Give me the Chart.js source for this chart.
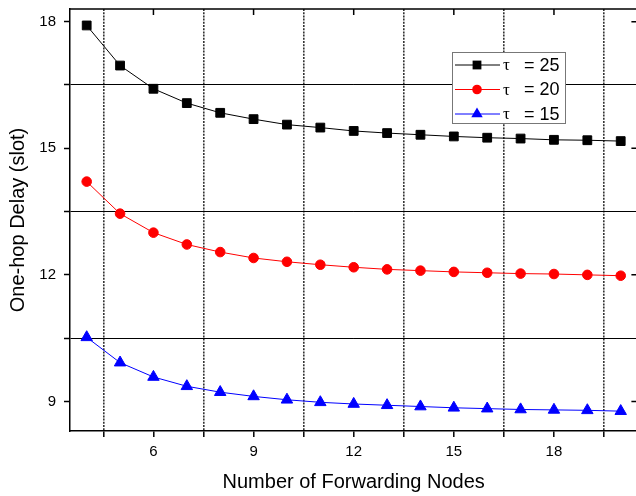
<!DOCTYPE html>
<html>
<head>
<meta charset="utf-8">
<script src="https://cdn.jsdelivr.net/npm/chart.js@4/dist/chart.umd.min.js"></script>
<style>
  html, body { margin: 0; padding: 0; background: #fff; overflow: hidden; }
  canvas { display: block; }
</style>
</head>
<body>
<canvas id="myChart" width="645" height="496"></canvas>
<script>
// data block
const nodes = [4, 5, 6, 7, 8, 9, 10, 11, 12, 13, 14, 15, 16, 17, 18, 19, 20];
const tau25 = [17.91, 16.96, 16.41, 16.07, 15.84, 15.69, 15.56, 15.49, 15.41, 15.36, 15.32, 15.28, 15.25, 15.23, 15.20, 15.19, 15.17];
const tau20 = [14.21, 13.45, 13.00, 12.72, 12.54, 12.40, 12.31, 12.24, 12.18, 12.13, 12.10, 12.07, 12.05, 12.03, 12.02, 12.00, 11.98];
const tau15 = [10.52, 9.92, 9.58, 9.36, 9.22, 9.12, 9.04, 8.98, 8.94, 8.91, 8.88, 8.85, 8.83, 8.81, 8.80, 8.79, 8.77];
const seriesLabels = ['25', '20', '15'];
const xTickLabels = [6, 9, 12, 15, 18];
const yTickLabels = [9, 12, 15, 18];

const FONT = "'Liberation Sans', Arial, sans-serif";

// minor positions sit halfway between the labelled ticks
function withMinor(major, lo, hi) {
  const out = [];
  major.forEach(v => { out.push(v - 1.5); out.push(v); });
  out.push(major[major.length - 1] + 1.5);
  return out.filter(v => v > lo && v < hi);
}
const isMajor = v => Math.abs(v % 3) < 1e-6;

const pts = arr => nodes.map((n, i) => ({x: n, y: arr[i]}));

const data = {
  datasets: [
    {label: seriesLabels[0], data: pts(tau25), borderColor: '#000', backgroundColor: '#000',
     pointStyle: 'rect', pointRadius: 6.2, borderWidth: 1},
    {label: seriesLabels[1], data: pts(tau20), borderColor: '#ff0000', backgroundColor: '#ff0000',
     pointStyle: 'circle', pointRadius: 4.8, borderWidth: 1},
    {label: seriesLabels[2], data: pts(tau15), borderColor: '#0000ff', backgroundColor: '#0000ff',
     pointStyle: 'triangle', pointRadius: 6.6, borderWidth: 1}
  ]
};

// frame on top/right with inward ticks, plus the boxed legend
const framePlugin = {
  id: 'frame',
  afterDatasetsDraw(chart) {
    const {ctx, chartArea: a, scales: {x, y}} = chart;
    ctx.save();
    ctx.strokeStyle = '#000';
    ctx.lineWidth = 1.5;
    ctx.beginPath();
    ctx.moveTo(a.left, a.top); ctx.lineTo(a.right, a.top); ctx.lineTo(a.right, a.bottom);
    xTickLabels.forEach(v => { const px = x.getPixelForValue(v); ctx.moveTo(px, a.top); ctx.lineTo(px, a.top + 6); });
    yTickLabels.forEach(v => { const py = y.getPixelForValue(v); ctx.moveTo(a.right, py); ctx.lineTo(a.right - 6, py); });
    ctx.stroke();

    // legend
    const bx = 452, by = 52, bw = 113, bh = 71;
    ctx.fillStyle = '#fff';
    ctx.fillRect(bx, by, bw, bh);
    ctx.strokeStyle = '#777';
    ctx.lineWidth = 1;
    ctx.strokeRect(bx + 0.5, by + 0.5, bw, bh);
    chart.data.datasets.forEach((ds, i) => {
      const cy = by + 13 + i * 24.5;
      ctx.strokeStyle = ds.borderColor;
      ctx.lineWidth = 1;
      ctx.beginPath(); ctx.moveTo(bx + 3, cy); ctx.lineTo(bx + 48, cy); ctx.stroke();
      const mx = bx + 25;
      ctx.fillStyle = ds.backgroundColor;
      ctx.beginPath();
      if (ds.pointStyle === 'rect') {
        ctx.rect(mx - 4.4, cy - 4.4, 8.8, 8.8);
      } else if (ds.pointStyle === 'circle') {
        ctx.arc(mx, cy, 4.8, 0, Math.PI * 2);
      } else {
        const r = 6.6;
        ctx.moveTo(mx, cy - r);
        ctx.lineTo(mx + r * 0.866, cy + r / 2);
        ctx.lineTo(mx - r * 0.866, cy + r / 2);
        ctx.closePath();
      }
      ctx.fill();
      ctx.fillStyle = '#000';
      ctx.textBaseline = 'middle';
      ctx.textAlign = 'left';
      ctx.font = "17px 'Liberation Serif', 'Times New Roman', serif";
      ctx.fillText('\u03c4', bx + 51, cy + 1);
      ctx.font = '18px ' + FONT;
      ctx.fillText('= ' + ds.label, bx + 72, cy + 1);
    });
    ctx.restore();
  }
};

const config = {
  type: 'line',
  data,
  options: {
    responsive: false,
    animation: false,
    layout: {padding: {top: 9, right: 3, left: 0, bottom: 0}},
    plugins: {legend: {display: false}, tooltip: {enabled: false}},
    elements: {line: {tension: 0}},
    scales: {
      x: {
        type: 'linear', min: 3.5, max: 20.5,
        afterFit: s => { s.height = 65; s.paddingLeft = 0; s.paddingRight = 0; },
        afterBuildTicks: s => { s.ticks = withMinor(xTickLabels, s.min, s.max).map(v => ({value: v})); },
        ticks: {
          autoSkip: false, maxRotation: 0, padding: 6, color: '#000',
          font: {family: FONT, size: 15},
          callback: v => isMajor(v) ? String(v) : ''
        },
        grid: {
          color: c => (c.tick && !isMajor(c.tick.value)) ? '#333' : 'rgba(0,0,0,0)',
          lineWidth: 1.6, tickLength: 6, tickColor: '#000', tickWidth: 1.5
        },
        border: {color: '#000', width: 1.5, dash: [2, 1.2]},
        title: {display: true, text: 'Number of Forwarding Nodes', color: '#000',
                font: {family: FONT, size: 20}, padding: {top: 0, bottom: 2}}
      },
      y: {
        type: 'linear', min: 8.3, max: 18.3,
        afterFit: s => { s.width = 70; s.paddingTop = 0; s.paddingBottom = 0; },
        afterBuildTicks: s => { s.ticks = withMinor(yTickLabels, s.min, s.max).map(v => ({value: v})); },
        ticks: {
          autoSkip: false, padding: 8, color: '#000',
          font: {family: FONT, size: 15},
          callback: v => isMajor(v) ? String(v) : ''
        },
        grid: {
          color: c => (c.tick && !isMajor(c.tick.value)) ? '#000' : 'rgba(0,0,0,0)',
          lineWidth: 1, tickLength: 6, tickColor: '#000', tickWidth: 1.5
        },
        border: {color: '#000', width: 1.5},
        title: {display: true, text: 'One-hop Delay (slot)', color: '#000',
                font: {family: FONT, size: 20}, padding: {top: 6, bottom: 0}}
      }
    }
  },
  plugins: [framePlugin]
};

const myChart = new Chart(document.getElementById('myChart'), config);
</script>
</body>
</html>
